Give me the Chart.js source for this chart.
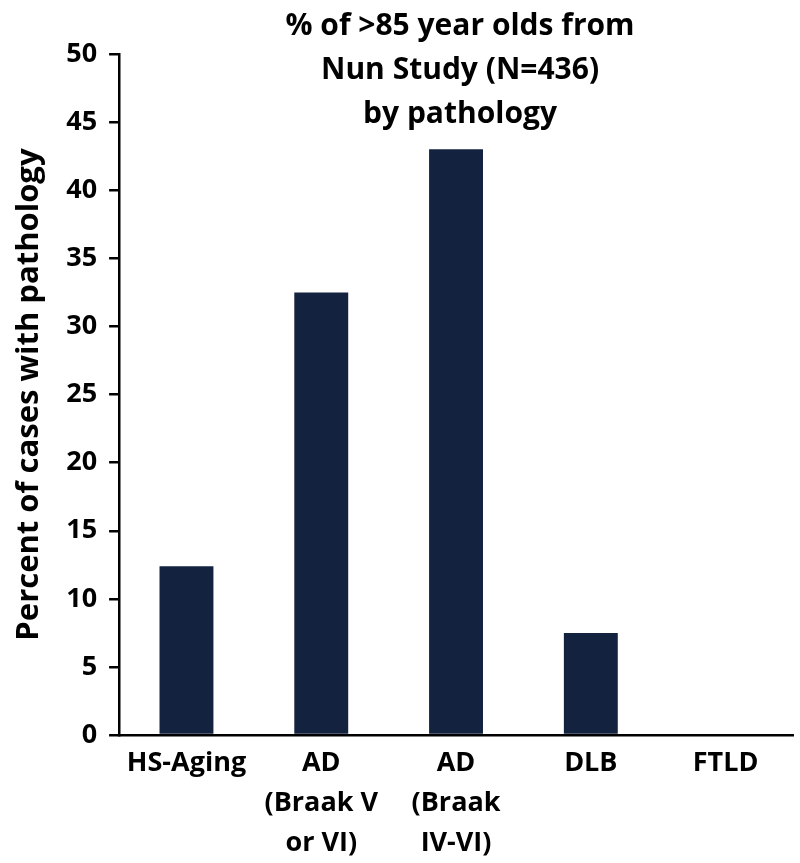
<!DOCTYPE html>
<html>
<head>
<meta charset="utf-8">
<script src="https://cdn.jsdelivr.net/npm/chart.js@4"></script>
<style>
  html, body { margin: 0; padding: 0; background: #fff; }
  #wrap { width: 800px; height: 863px; }
</style>
</head>
<body>
<div id="wrap"><canvas id="c1"></canvas></div>
<script>
// data
const categories = [
    'HS-Aging',
    ['AD', '(Braak V', 'or VI)'],
    ['AD', '(Braak', 'IV-VI)'],
    'DLB',
    'FTLD'
];
const percentValues = [12.4, 32.5, 43.0, 7.5, 0];
const titleLines = ['% of >85 year olds from', 'Nun Study (N=436)', 'by pathology'];
const yAxisTitle = 'Percent of cases with pathology';

const FONT = '"Open Sans", sans-serif';
const BAR_COLOR = '#13233f';

// title sits inside the plot area, so draw it ourselves
const titlePlugin = {
    id: 'innerTitle',
    afterDraw(chart) {
        const ctx = chart.ctx;
        const area = chart.chartArea;
        const cx = (area.left + area.right) / 2 + 4;
        ctx.save();
        ctx.fillStyle = '#000';
        ctx.font = 'bold 30px ' + FONT;
        ctx.textAlign = 'center';
        ctx.textBaseline = 'middle';
        titleLines.forEach((t, i) => ctx.fillText(t, cx, 26 + i * 44));
        ctx.restore();
    }
};

new Chart(document.getElementById('c1'), {
    type: 'bar',
    data: {
        labels: categories,
        datasets: [{
            data: percentValues,
            backgroundColor: BAR_COLOR,
            borderWidth: 0,
            categoryPercentage: 1,
            barPercentage: 0.4
        }]
    },
    options: {
        responsive: true,
        maintainAspectRatio: false,
        animation: false,
        layout: { padding: { top: 54, right: 7, bottom: -8, left: 11 } },
        plugins: { legend: { display: false }, tooltip: { enabled: false } },
        scales: {
            x: {
                grid: { display: true, drawOnChartArea: false, drawTicks: false },
                border: { display: true, color: '#000', width: 2.5 },
                ticks: {
                    color: '#000',
                    padding: 8,
                    maxRotation: 0,
                    autoSkip: false,
                    font: { family: FONT, size: 27, weight: 'bold', lineHeight: 1.48 }
                }
            },
            y: {
                min: 0,
                max: 50,
                grid: { display: true, drawOnChartArea: false, drawTicks: true, tickLength: 10, color: '#000', lineWidth: 2.5 },
                border: { display: true, color: '#000', width: 2.5 },
                ticks: {
                    stepSize: 5,
                    color: '#000',
                    padding: 12,
                    font: { family: FONT, size: 27, weight: 'bold' }
                },
                title: {
                    display: true,
                    text: yAxisTitle,
                    color: '#000',
                    padding: { top: 0, bottom: 6 },
                    font: { family: FONT, size: 31, weight: 'bold' }
                }
            }
        }
    },
    plugins: [titlePlugin]
});
</script>
</body>
</html>
